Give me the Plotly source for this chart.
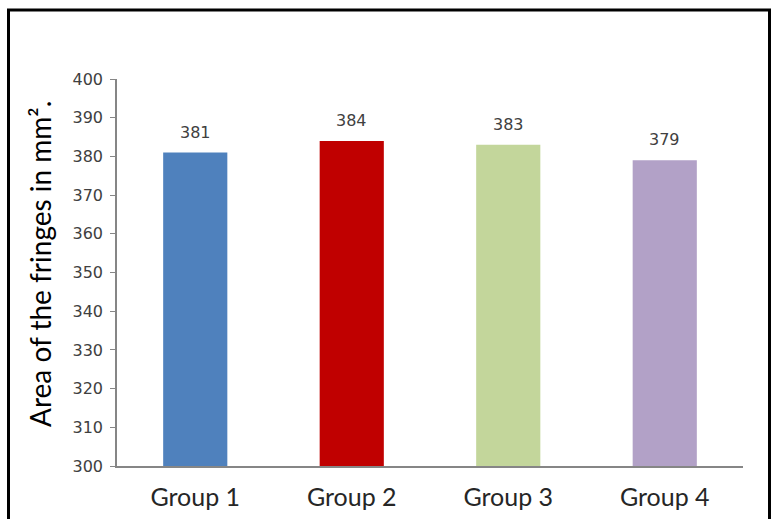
import plotly.graph_objects as go

groups = ["Group 1", "Group 2", "Group 3", "Group 4"]
areas = [381, 384, 383, 379]
colors = ["#4F81BD", "#C00000", "#C3D69B", "#B2A1C7"]
y_ticks = list(range(300, 401, 10))
y_title = "Area of the fringes in mm²."

W, H = 771, 519
ML, MR, MT, MB = 117, 28, 79, 53
pw, ph = W - ML - MR, H - MT - MB


def px_x(p):
    return (p - ML) / pw


def px_y(p):
    return 1 - (p - MT) / ph


num_font = dict(family="DejaVu Sans, Verdana, sans-serif", size=16, color="#404040")

fig = go.Figure(
    go.Bar(
        x=groups,
        y=areas,
        marker=dict(color=colors, line=dict(width=0)),
        width=0.41,
        hoverinfo="x+y",
    )
)

# value labels above each bar
for g, v in zip(groups, areas):
    fig.add_annotation(
        x=g,
        y=v,
        text=str(v),
        showarrow=False,
        yanchor="bottom",
        yshift=9,
        font=num_font,
    )

# vertical axis title
fig.add_annotation(
    xref="paper",
    yref="paper",
    x=px_x(40),
    y=px_y(264),
    text=y_title,
    textangle=-90,
    showarrow=False,
    xanchor="center",
    yanchor="middle",
    font=dict(family="Lato", size=28, color="#000000"),
)

fig.update_layout(
    width=W,
    height=H,
    margin=dict(l=ML, r=MR, t=MT, b=MB, autoexpand=False),
    paper_bgcolor="white",
    plot_bgcolor="white",
    showlegend=False,
    xaxis=dict(
        automargin=False,
        showline=True,
        linecolor="#868686",
        linewidth=1.5,
        ticks="",
        ticklabelstandoff=8,
        tickfont=dict(family="Lato", size=25, color="#262626"),
        showgrid=False,
    ),
    yaxis=dict(
        automargin=False,
        range=[300, 400],
        tickvals=y_ticks,
        showline=True,
        linecolor="#868686",
        linewidth=1.5,
        ticks="outside",
        ticklen=5,
        tickcolor="#868686",
        ticklabelstandoff=4,
        tickfont=num_font,
        showgrid=False,
        zeroline=False,
    ),
    shapes=[
        dict(
            type="rect",
            xref="paper",
            yref="paper",
            x0=px_x(8.5),
            x1=px_x(769.5),
            y0=px_y(530),
            y1=px_y(10),
            line=dict(color="black", width=3),
            fillcolor="rgba(0,0,0,0)",
            layer="above",
        )
    ],
)

fig.write_html("out.html")
